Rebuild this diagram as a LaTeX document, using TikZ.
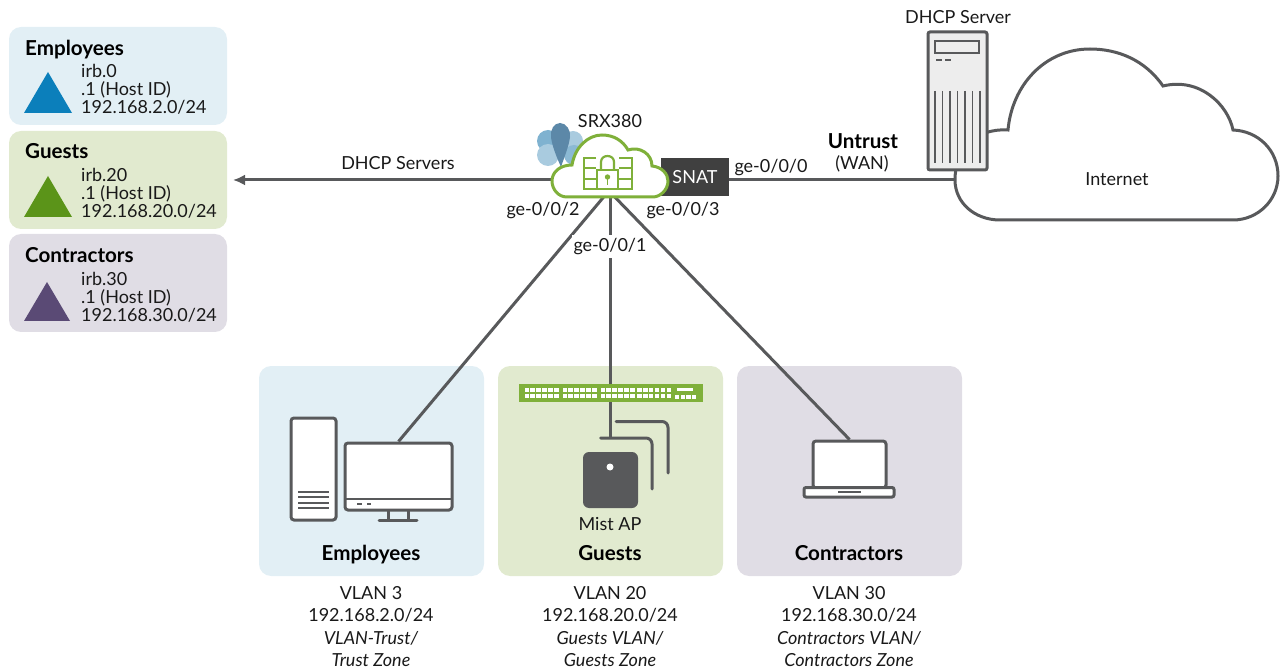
\documentclass[tikz,border=0pt]{standalone}
\usepackage{fontspec}
\setmainfont{Lato}
\usetikzlibrary{arrows.meta}
\definecolor{linegray}{HTML}{58595B}
\definecolor{snatgray}{HTML}{404040}
\definecolor{srxgreen}{HTML}{7FB03A}
\definecolor{emppanel}{HTML}{E2EFF5}
\definecolor{guestpanel}{HTML}{E1EACF}
\definecolor{contrpanel}{HTML}{E0DDE5}
\definecolor{emptri}{HTML}{0B7FBB}
\definecolor{guesttri}{HTML}{5B9419}
\definecolor{contrtri}{HTML}{5A4A75}
\definecolor{petallight}{HTML}{A9CBDF}
\definecolor{petalmid}{HTML}{7FB2D0}
\definecolor{petaldark}{HTML}{5C88A8}
\tikzset{
  panel/.style={rounded corners=12pt,draw=none,inner sep=0pt},
  label/.style={font=\fontsize{18}{20}\selectfont,text=black!90,inner sep=0pt},
  head/.style={font=\fontsize{20.6}{24}\selectfont\bfseries,text=black,inner sep=0pt,anchor=base},
  info/.style={font=\fontsize{18}{18}\selectfont,text=black!90,inner sep=0pt,align=left,anchor=north west},
  vlan/.style={font=\fontsize{18}{22.4}\selectfont,text=black!90,inner sep=0pt,align=center,anchor=north},
  link/.style={draw=linegray,line width=3pt},
  icon/.style={draw=linegray,line width=3pt,rounded corners=3pt,fill=white,inner sep=0pt},
}
\begin{document}
\begin{tikzpicture}[x=1pt,y=-1pt]
  \useasboundingbox (0,0) rectangle (1280,668);

  % Zone panels on the left
  \fill[panel,emppanel] (9,27) rectangle (227,125);
  \fill[panel,guestpanel] (9,131) rectangle (227,229);
  \fill[panel,contrpanel] (9,234) rectangle (227,332);
  \node[head,anchor=base west] (leftemp) at (25,55.5) {Employees};
  \node[head,anchor=base west] (leftguest) at (25,159) {Guests};
  \node[head,anchor=base west] (leftcontr) at (25,263) {Contractors};
  \fill[emptri] (48,72) -- (72,113) -- (24,113) -- cycle;
  \fill[guesttri] (48,176) -- (72,217) -- (24,217) -- cycle;
  \fill[contrtri] (47,282) -- (70,321) -- (24,321) -- cycle;
  \node[info] (infoemp) at (81,64.5) {irb.0\\.1 (Host ID)\\192.168.2.0/24};
  \node[info] (infoguest) at (81,168) {irb.20\\.1 (Host ID)\\192.168.20.0/24};
  \node[info] (infocontr) at (81,272) {irb.30\\.1 (Host ID)\\192.168.30.0/24};

  % Bottom panels
  \fill[panel,emppanel] (259,366) rectangle (484,576);
  \fill[panel,guestpanel] (498,366) rectangle (723,576);
  \fill[panel,contrpanel] (737,366) rectangle (962,576);

  % Anchors for the links
  \node[minimum width=116pt,minimum height=34pt,inner sep=0pt] (srx) at (610,180) {};
  \node[fill=snatgray,text=white,font=\fontsize{18}{20}\selectfont,minimum width=68pt,minimum height=38pt,inner sep=0pt] (snat) at (695,177) {SNAT};
  \coordinate (dhcpend) at (233,180);
  \coordinate (inetwest) at (955,180);
  \node[icon,minimum width=107pt,minimum height=67pt] (monitor) at (398.5,476.5) {};
  \node[icon,minimum width=73pt,minimum height=47pt] (laptop) at (849.5,464.5) {};
  \node[fill=srxgreen,minimum width=184pt,minimum height=18pt,inner sep=0pt] (switch) at (610.5,393) {};
  \coordinate (apstem) at (610.5,438);

  % Links
  \draw[link,-{Latex[length=12pt,width=11pt]}] (srx.west) -- (dhcpend);
  \draw[link] (snat.east |- inetwest) -- (inetwest);
  \draw[link] ([xshift=-6.5pt]srx.south) -- (monitor.north);
  \draw[link] ([xshift=5pt]srx.south) -- (laptop.north);
  \draw[link] (srx.south -| switch.north) -- (switch.north);
  \draw[link] (switch.south) -- (apstem);

  % Petals behind the firewall
  \fill[petalmid] (548,141) circle (11);
  \fill[petallight] (548,155) circle (11);
  \fill[petallight] (573,141) circle (10);
  \fill[petalmid!70!petallight] (574,155) circle (10);
  \fill[petaldark] (560,123) .. controls (554,123) and (550,130) .. (551,137)
    .. controls (552,146) and (557,158) .. (561,167)
    .. controls (564,158) and (569,146) .. (570,137)
    .. controls (571,130) and (566,123) .. (560,123) -- cycle;

  % Firewall cloud
  \draw[srxgreen,line width=3pt,fill=white] (572,165) .. controls (575,147) and (588,135) .. (602,135)
    .. controls (614,135) and (623,141) .. (628,150)
    .. controls (640,146) and (652,154) .. (652,166)
    .. controls (662,167) and (668,174) .. (668,181)
    .. controls (668,190) and (660,197) .. (653,197)
    -- (567,197) .. controls (558,197) and (552,189) .. (552,181)
    .. controls (552,172) and (560,165) .. (572,165) -- cycle;
  \draw[srxgreen,line width=2.2pt] (596,158) -- (584,158) -- (584,189) -- (596,189)
    (584,168) -- (596,168) (584,179) -- (596,179)
    (619,158) -- (632,158) -- (632,189) -- (619,189)
    (619,168) -- (632,168) (619,179) -- (632,179);
  \draw[srxgreen,line width=2.2pt] (597,170) rectangle (618,189);
  \draw[srxgreen,line width=2.2pt] (601,170) -- (601,162) .. controls (601,154) and (614,154) .. (614,162) -- (614,170);
  \fill[srxgreen] (607.5,177) circle (2.7);
  \draw[srxgreen,line width=1.6pt] (607.5,177) -- (607.5,185);

  % Internet cloud
  \draw[linegray,line width=3pt,fill=white] (955,180) .. controls (955,203) and (975,220) .. (1000,220)
    -- (1233,220) .. controls (1258,220) and (1278,200) .. (1278,176)
    .. controls (1278,150) and (1258,131) .. (1233,130)
    .. controls (1228,105) and (1200,77) .. (1163,86)
    .. controls (1145,60) and (1118,49) .. (1090,49)
    .. controls (1045,49) and (1012,85) .. (1008,130)
    .. controls (975,128) and (955,150) .. (955,180) -- cycle;
  \node[label] (internet) at (1117,179) {Internet};

  % DHCP server
  \draw[linegray,line width=3pt,rounded corners=2pt,fill=black!7] (928,32) rectangle (987,170);
  \draw[linegray,line width=2pt] (935,41) rectangle (979,53);
  \draw[linegray,line width=1.5pt] (936,60) -- (942,60) (945,60) -- (951,60);
  \foreach \x in {935,942.5,950,957.5,965,972.5,980}
    \draw[linegray,line width=1.5pt] (\x,91) -- (\x,163);

  % Employee devices
  \draw[icon] (291,418) rectangle (336,520);
  \foreach \y in {492,497,503,508}
    \draw[linegray,line width=1.5pt] (298,\y) -- (329,\y);
  \draw[linegray,line width=2pt] (345,499) -- (452,499);
  \draw[linegray,line width=1.5pt] (357,504) -- (362,504) (367,504) -- (371,504);
  \draw[linegray,line width=3pt] (388,510) -- (388,519) (408,510) -- (408,519);
  \draw[linegray,line width=3pt,line cap=round] (379,520) -- (417,520);

  % Switch ports
  \foreach \gx in {524.5,562.5,600.5,637}
    \foreach \i in {0,...,5}
      \foreach \y in {387.5,394}
        \fill[white] (\gx+\i*5.9,\y) rectangle ++(4.6,4.4);
  \fill[white] (677,387.5) rectangle (693,391);
  \foreach \i in {0,...,3}
    \fill[white] (675+\i*5.6,394.7) rectangle ++(4.4,4.4);

  % Mist AP
  \draw[linegray,line width=3pt,rounded corners=6pt,line cap=round] (600.5,438) -- (652,438) -- (652,489);
  \draw[linegray,line width=3pt,rounded corners=6pt,line cap=round] (616,421.5) -- (668,421.5) -- (668,473);
  \fill[linegray,rounded corners=6pt] (583,452) rectangle (638,508);
  \fill[white] (610,467) circle (3.5);
  \node[label] (mistap) at (610,524) {Mist AP};

  % Laptop base
  \draw[linegray,line width=3pt,rounded corners=2pt,fill=white] (804,487.5) rectangle (894,497);
  \draw[linegray,line width=2pt] (838,492) -- (861,492);

  % Panel titles and VLAN text
  \node[head] (emptitle) at (371,560) {Employees};
  \node[head] (guesttitle) at (610,560) {Guests};
  \node[head] (contrtitle) at (849,560) {Contractors};
  \node[vlan] (vlanemp) at (371,586) {VLAN 3\\192.168.2.0/24\\\itshape VLAN-Trust/\\\itshape Trust Zone};
  \node[vlan] (vlanguest) at (610,586) {VLAN 20\\192.168.20.0/24\\\itshape Guests VLAN/\\\itshape Guests Zone};
  \node[vlan] (vlancontr) at (849,586) {VLAN 30\\192.168.30.0/24\\\itshape Contractors VLAN/\\\itshape Contractors Zone};

  % Link labels
  \node[label] (dhcplabel) at (398,163.5) {DHCP Servers};
  \node[label] (srxlabel) at (610,121) {SRX380};
  \node[label] (port0) at (771,168) {ge-0/0/0};
  \node[label,fill=white,inner xsep=2pt,inner ysep=3pt] (port1) at (610,246.5) {ge-0/0/1};
  \node[label] (port2) at (543,211) {ge-0/0/2};
  \node[label] (port3) at (683,211) {ge-0/0/3};
  \node[head] (untrust) at (863,149) {Untrust};
  \node[label] (wan) at (862,164) {(WAN)};
  \node[label] (serverlabel) at (958,17) {DHCP Server};
\end{tikzpicture}
\end{document}
